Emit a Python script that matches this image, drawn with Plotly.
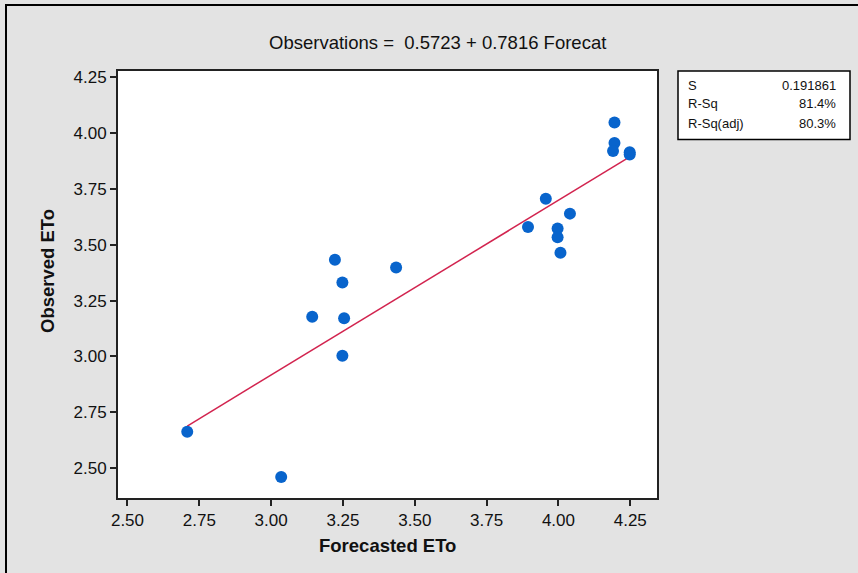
import plotly.graph_objects as go

# Data
forecasted = [3.222, 3.435, 3.248, 3.143, 3.254, 3.248, 2.708, 3.035,
              4.195, 4.195, 4.190, 4.248, 4.248, 3.956, 4.040, 3.894,
              3.997, 3.997, 4.007]
observed = [3.433, 3.398, 3.331, 3.178, 3.171, 3.003, 2.663, 2.461,
            4.047, 3.955, 3.919, 3.914, 3.903, 3.706, 3.639, 3.579,
            3.573, 3.533, 3.464]
intercept = 0.5723
slope = 0.7816
stat_labels = ["S", "R-Sq", "R-Sq(adj)"]
stat_values = ["0.191861", "81.4%", "80.3%"]
x_ticks = [2.50, 2.75, 3.00, 3.25, 3.50, 3.75, 4.00, 4.25]
y_ticks = [2.50, 2.75, 3.00, 3.25, 3.50, 3.75, 4.00, 4.25]

W, H = 858, 573
L, R, T, B = 118, 201, 71, 75
PW, PH = W - L - R, H - T - B


def xp(px):
    return (px - L) / PW


def yp(py):
    return (H - B - py) / PH


xmin, xmax = min(forecasted), max(forecasted)
fit_x = [xmin, xmax]
fit_y = [intercept + slope * v for v in fit_x]

fig = go.Figure()
fig.add_trace(go.Scatter(x=fit_x, y=fit_y, mode="lines",
                         line=dict(color="#D2244F", width=1.5),
                         hoverinfo="skip", showlegend=False))
fig.add_trace(go.Scatter(x=forecasted, y=observed, mode="markers",
                         marker=dict(color="#0864CC", size=12),
                         showlegend=False))

font_main = "Liberation Sans, Arial, sans-serif"

annotations = [
    dict(text="Observations =  0.5723 + 0.7816 Forecat", x=xp(437.5), y=yp(43),
         xref="paper", yref="paper", showarrow=False, xanchor="center", yanchor="middle",
         font=dict(family=font_main, size=18.5, color="#111")),
    dict(text="<b>Forecasted ETo</b>", x=xp(387), y=yp(545),
         xref="paper", yref="paper", showarrow=False, xanchor="center", yanchor="middle",
         font=dict(family=font_main, size=18.5, color="#111")),
    dict(text="<b>Observed ETo</b>", x=xp(47), y=yp(271), textangle=-90,
         xref="paper", yref="paper", showarrow=False, xanchor="center", yanchor="middle",
         font=dict(family=font_main, size=18.5, color="#111")),
]
row_y = [85, 104, 123]
for lab, val, ry in zip(stat_labels, stat_values, row_y):
    annotations.append(dict(text=lab, x=xp(686), y=yp(ry), xref="paper", yref="paper",
                            showarrow=False, xanchor="left", yanchor="middle",
                            font=dict(family=font_main, size=13, color="#111")))
    annotations.append(dict(text=val, x=xp(838), y=yp(ry), xref="paper", yref="paper",
                            showarrow=False, xanchor="right", yanchor="middle",
                            font=dict(family=font_main, size=13, color="#111")))

shapes = [
    dict(type="rect", xref="paper", yref="paper", x0=xp(6), x1=xp(870), y0=yp(5), y1=yp(590),
         line=dict(color="#000", width=2), fillcolor="rgba(0,0,0,0)", layer="below"),
    dict(type="rect", xref="paper", yref="paper", x0=xp(678), x1=xp(850), y0=yp(71), y1=yp(139.5),
         line=dict(color="#000", width=1.5), fillcolor="white"),
]

fig.update_layout(
    width=W, height=H,
    margin=dict(l=L, r=R, t=T, b=B, pad=0),
    paper_bgcolor="#E3E3E3",
    plot_bgcolor="white",
    showlegend=False,
    annotations=annotations,
    shapes=shapes,
    font=dict(family=font_main, size=17, color="#111"),
)
fig.update_xaxes(range=[2.467, 4.343], tickvals=x_ticks,
                 ticktext=[f"{v:.2f}" for v in x_ticks],
                 showgrid=False, zeroline=False, showline=True, mirror=True,
                 linecolor="#222", linewidth=2, ticks="outside", ticklen=6,
                 tickwidth=1.5, tickcolor="#222",
                 tickfont=dict(family=font_main, size=17, color="#111"))
fig.update_yaxes(range=[2.367, 4.277], tickvals=y_ticks,
                 ticktext=[f"{v:.2f}" for v in y_ticks],
                 showgrid=False, zeroline=False, showline=True, mirror=True,
                 linecolor="#222", linewidth=2, ticks="outside", ticklen=6,
                 tickwidth=1.5, tickcolor="#222",
                 tickfont=dict(family=font_main, size=17, color="#111"))

fig.write_html("out.html")
